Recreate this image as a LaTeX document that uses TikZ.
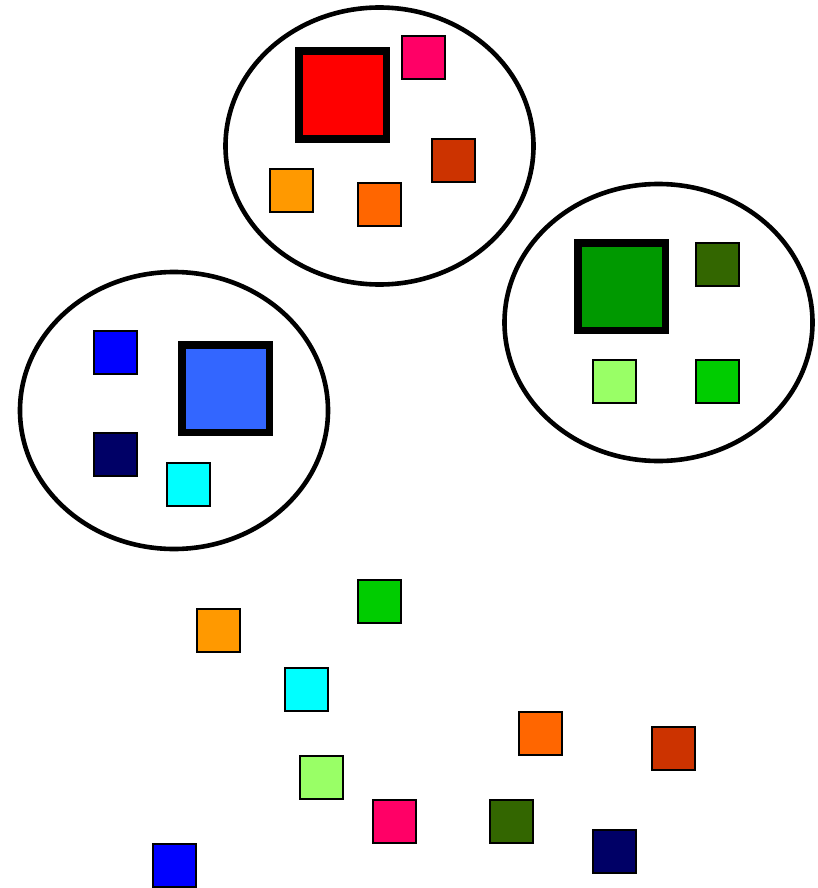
\documentclass[tikz,border=0pt]{standalone}
\usetikzlibrary{shapes.geometric}
\definecolor{cRed}{HTML}{FF0000}
\definecolor{cPink}{HTML}{FF0066}
\definecolor{cRust}{HTML}{CC3300}
\definecolor{cAmber}{HTML}{FF9900}
\definecolor{cOrange}{HTML}{FF6600}
\definecolor{cBlue}{HTML}{0000FF}
\definecolor{cSky}{HTML}{3366FF}
\definecolor{cNavy}{HTML}{000066}
\definecolor{cCyan}{HTML}{00FFFF}
\definecolor{cGreen}{HTML}{009900}
\definecolor{cOlive}{HTML}{336600}
\definecolor{cLime}{HTML}{99FF66}
\definecolor{cBright}{HTML}{00CC00}
\tikzset{
  grp/.style={draw=black, ellipse, line width=4.6pt, inner sep=0pt, minimum width=308pt, minimum height=277pt},
  sq/.style={draw=black, rectangle, line width=2pt, inner sep=0pt, minimum size=43pt, fill=#1},
  bigsq/.style={draw=black, rectangle, line width=7.5pt, inner sep=0pt, minimum size=87.5pt, fill=#1}
}
\begin{document}
\begin{tikzpicture}[x=1pt,y=-1pt]
\useasboundingbox (0,0) rectangle (818,888);
% groups
\node[grp] (gTop) at (379.5,146) {};
\node[grp] (gLeft) at (174,410.5) {};
\node[grp] (gRight) at (658.5,322.5) {};
% top group
\node[bigsq=cRed] (tRed) at (342.5,95) {};
\node[sq=cPink] (tPink) at (423.5,57.5) {};
\node[sq=cRust] (tRust) at (453,160.5) {};
\node[sq=cAmber] (tAmber) at (291.5,190.5) {};
\node[sq=cOrange] (tOrange) at (379.5,204.5) {};
% left group
\node[sq=cBlue] (lBlue) at (115.5,352) {};
\node[bigsq=cSky] (lSky) at (225.5,388.5) {};
\node[sq=cNavy] (lNavy) at (115.5,454.5) {};
\node[sq=cCyan] (lCyan) at (188.5,484) {};
% right group
\node[bigsq=cGreen] (rGreen) at (621.5,286.5) {};
\node[sq=cOlive] (rOlive) at (717,264) {};
\node[sq=cLime] (rLime) at (614,381.5) {};
\node[sq=cBright] (rBright) at (717,381.5) {};
% loose squares
\node[sq=cAmber] (bAmber) at (218,630.5) {};
\node[sq=cBright] (bBright) at (379.5,601) {};
\node[sq=cCyan] (bCyan) at (306,689.5) {};
\node[sq=cOrange] (bOrange) at (540.5,733) {};
\node[sq=cRust] (bRust) at (673,748) {};
\node[sq=cLime] (bLime) at (321,777) {};
\node[sq=cPink] (bPink) at (394,821.5) {};
\node[sq=cOlive] (bOlive) at (511.5,821.5) {};
\node[sq=cNavy] (bNavy) at (614,851) {};
\node[sq=cBlue] (bBlue) at (174,865) {};
\end{tikzpicture}
\end{document}
